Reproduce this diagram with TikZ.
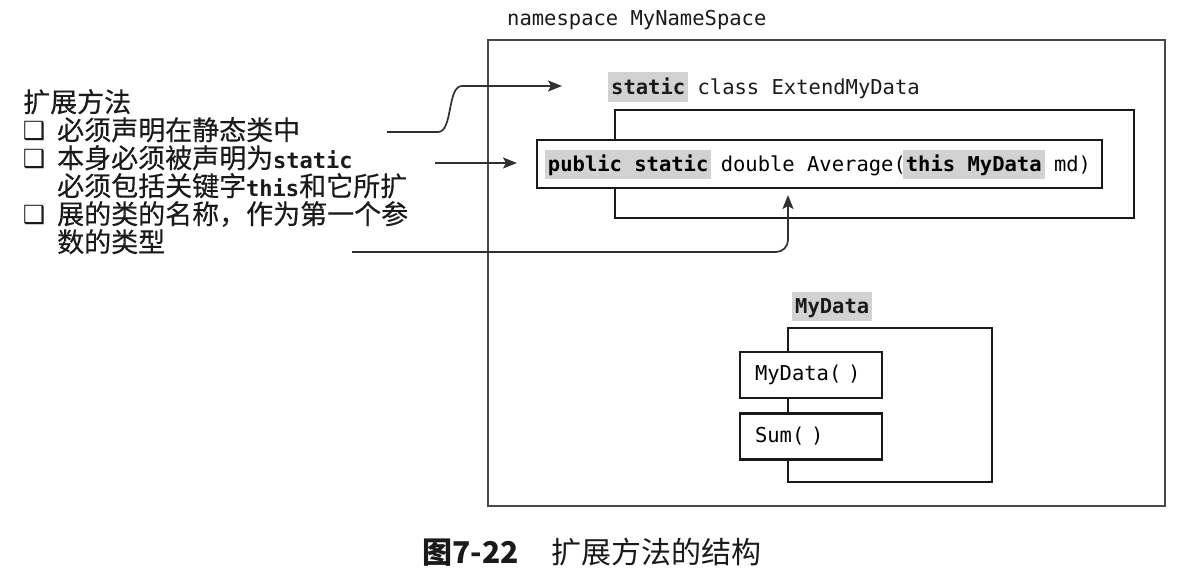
\documentclass[tikz,border=0pt]{standalone}
\usepackage{fontspec}
\usetikzlibrary{arrows.meta}
\newfontfamily\cjk{Noto Sans CJK SC}
\newfontfamily\cjkm[FakeBold=0.35]{Noto Sans CJK SC}
\newfontfamily\code{DejaVu Sans Mono}
\newfontfamily\symf{DejaVu Sans Bold}
\definecolor{hlgray}{HTML}{D2D2D2}
\definecolor{ink}{HTML}{1A1A1A}
\newcommand\hlt[1]{\hspace{-3pt}{\setlength{\fboxsep}{0pt}\colorbox{hlgray}{\rule[-7pt]{0pt}{29pt}\hspace{3pt}#1\hspace{3pt}}}\hspace{-3pt}}
\newcommand\kw[1]{{\bfseries #1}}
\newcommand\lcode[1]{{\code\bfseries\fontsize{22}{28}\selectfont #1}}
\begin{document}
\begin{tikzpicture}[x=1pt,y=-1pt,
  codefont/.style={font=\code\fontsize{20.5}{24}\selectfont},
  lefttext/.style={anchor=base west,inner sep=0pt,text=ink,font=\cjkm\fontsize{27}{28}\selectfont},
  bulletmark/.style={inner sep=0pt,text=ink,font=\symf\fontsize{25}{25}\selectfont},
  nsbox/.style={draw=ink!80,line width=1.4pt,minimum width=677pt,minimum height=466pt,inner sep=0pt},
  classbox/.style={draw=ink,line width=2.4pt,inner sep=0pt},
  methodbox/.style={draw=ink,line width=2.6pt,fill=white,inner sep=0pt,codefont},
  memberbox/.style={draw=ink,line width=2.4pt,fill=white,inner xsep=15pt,inner ysep=0pt,
    text width=112pt,align=left,minimum height=46pt,codefont},
  plainlabel/.style={anchor=base west,inner sep=0pt,text=ink,codefont},
  pointer/.style={draw=ink!90,line width=1.7pt,-{Stealth[length=14pt,width=11pt,inset=3pt]}}
]
\useasboundingbox (0,0) rectangle (1181,578);

% namespace
\node[plainlabel] (nslabel) at (507,26) {namespace MyNameSpace};
\node[nsbox] (ns) at (826.5,273) {};

% ExtendMyData class
\node[plainlabel] (extlabel) at (611,94.5) {\hlt{\kw{static}} class ExtendMyData};
\node[classbox,minimum width=519pt,minimum height=108pt] (ext) at (874.5,164) {};
\node[methodbox,minimum width=565pt,minimum height=48pt] (avg) at (819.5,164)
  {\hlt{\kw{public static}} double Average(\hlt{\kw{this MyData}} md)};

% MyData class
\node[plainlabel] (mdlabel) at (795,313.5) {\hlt{\kw{MyData}}};
\node[classbox,minimum width=204pt,minimum height=154pt] (md) at (890,405) {};
\node[memberbox] (ctor) at (811,375) {MyData(~)};
\node[memberbox] (sum) at (811,436.5) {Sum(~)};

% left text
\node[lefttext] (t1) at (23,112) {扩展方法};
\node[bulletmark] (b2) at (34,131) {❑};
\node[lefttext] (t2) at (57,140) {必须声明在静态类中};
\node[bulletmark] (b3) at (34,159) {❑};
\node[lefttext] (t3) at (57,168) {本身必须被声明为\lcode{static}};
\node[lefttext] (t4) at (57,196) {必须包括关键字\lcode{this}和它所扩};
\node[bulletmark] (b5) at (34,215) {❑};
\node[lefttext] (t5) at (57,224) {展的类的名称，作为第一个参};
\node[lefttext] (t6) at (57,252) {数的类型};

% pointers
\coordinate (p1s) at (387,132);
\coordinate (p1e) at (562,86);
\coordinate (p2s) at (435,163);
\coordinate (p2e) at (517,163);
\coordinate (p3s) at (352,252);
\coordinate (p3e) at (788,195);
\draw[pointer] (p1s) -- (438,132) .. controls (453,132) and (447,86) .. (462,86) -- (p1e);
\draw[pointer] (p2s) -- (p2e);
\draw[pointer,rounded corners=12pt] (p3s) -- (p3s -| p3e) -- (p3e);

% caption
\node[inner sep=0pt,text=ink,font=\cjk\fontsize{30}{30}\selectfont] (cap) at (592,552)
  {{\bfseries 图7-22}\hspace{1.1em}扩展方法的结构};
\end{tikzpicture}
\end{document}
